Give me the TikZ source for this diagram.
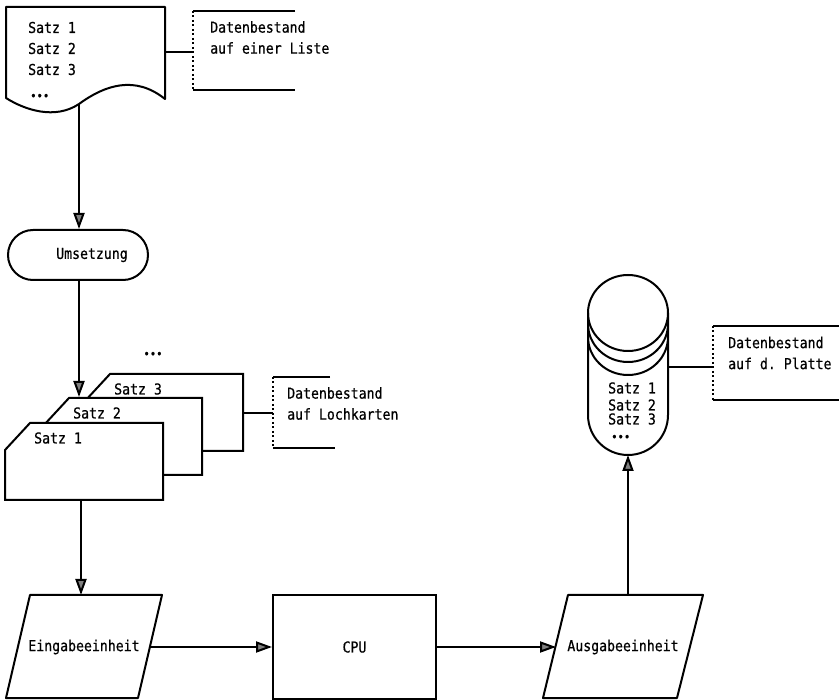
\documentclass[tikz,border=0pt]{standalone}
\usepackage{fontspec}
\setmonofont{DejaVu Sans Mono}[FakeStretch=0.88, FakeBold=0.6]
\usetikzlibrary{arrows.meta, shapes.geometric, shapes.misc, positioning}

\begin{document}
\begin{tikzpicture}[
    x=1pt, y=1pt,
    every node/.style={font=\ttfamily\fontsize{15}{21}\selectfont, inner sep=2pt},
    flow/.style={line width=2pt, line join=round},
    unit/.style={draw, line width=2pt, minimum height=103, inner sep=0pt},
    terminal/.style={draw, rounded rectangle, line width=2pt, minimum width=144, minimum height=50},
    card/.style={draw, fill=white, line width=2pt, line join=miter},
    note/.style={align=left, anchor=west},
    klammer/.style={line width=1.3pt, dash pattern=on 2pt off 2.5pt},
    arrow/.style={flow, -{Triangle[length=16pt, width=11pt, fill=gray]}}]

    \useasboundingbox (0,0) rectangle (839,-700);

    % Datenbestand auf einer Liste (oben links)
    \draw[flow] (6,-7) -- (165,-7) -- (165,-99)
        .. controls (135,-75) and (105,-85) .. (79,-104)
        .. controls (55,-120) and (25,-110) .. (6,-98) -- cycle;
    \node[note] (listesaetze) at (26,-48.5) {Satz 1\\Satz 2\\Satz 3};
    \node[note] (listerest) at (28,-97) {\fontsize{12}{12}\selectfont •••};
    \coordinate (listeunten) at (79,-104);
    \coordinate (listerechts) at (165,-52);
    \coordinate (listenotiz) at (193,-52);
    \draw[flow] (295,-11) -- (193,-11);
    \draw[klammer] (193,-11) -- (193,-90);
    \draw[flow] (193,-90) -- (295,-90);
    \draw[flow] (listerechts) -- (listenotiz);
    \node[note] (listetext) at (208,-37.5) {Datenbestand\\auf einer Liste};

    % Umsetzung
    \node[terminal] (umsetzung) at (78,-255) {\hspace*{28pt}Umsetzung};
    \draw[arrow] (listeunten) -- (listeunten |- umsetzung.north);

    % Lochkarten
    \foreach \nr/\dx/\dy in {3/80/49, 2/39/25, 1/0/0} {
        \draw[card, shift={(\dx,\dy)}] (5,-450) -- (30,-423) -- (163,-423) -- (163,-500) -- (5,-500) -- cycle;
        \node[note, shift={(\dx,\dy)}] (satz\nr) at (32,-438) {Satz \nr};
    }
    \node (kartenrest) at (153,-355) {\fontsize{12}{12}\selectfont •••};
    \coordinate (kartenoben) at (79,-397);
    \coordinate (kartenunten) at (81,-500);
    \coordinate (kartenrechts) at (243,-413);
    \coordinate (kartennotiz) at (273,-413);
    \draw[arrow] (umsetzung.south -| kartenoben) -- (kartenoben);
    \draw[flow] (330,-377) -- (273,-377);
    \draw[klammer] (273,-377) -- (273,-448);
    \draw[flow] (273,-448) -- (335,-448);
    \draw[flow] (kartenrechts) -- (kartennotiz);
    \node[note] (kartentext) at (285,-403.5) {Datenbestand\\auf Lochkarten};

    % Eingabe - CPU - Ausgabe
    \draw[flow] (30,-595) -- (162,-595) -- (138,-698) -- (6,-698) -- cycle;
    \node (eingabe) at (84,-647) {Eingabeeinheit};
    \coordinate (eingabeoben) at (81,-595);
    \coordinate (eingaberechts) at (150,-647);
    \node[unit, minimum width=163] (cpu) at (354.5,-647) {CPU};
    \draw[flow] (568,-595) -- (703,-595) -- (677,-698) -- (543,-698) -- cycle;
    \node (ausgabe) at (623,-647) {Ausgabeeinheit};
    \coordinate (ausgabelinks) at (556,-647);
    \coordinate (ausgabeoben) at (628,-595);
    \draw[arrow] (kartenunten) -- (eingabeoben);
    \draw[arrow] (eingaberechts) -- (cpu.west);
    \draw[arrow] (cpu.east) -- (ausgabelinks);

    % Datenbestand auf der Platte
    \draw[flow, fill=white] (588,-313) -- (588,-415) arc[start angle=180, end angle=360, radius=40] -- (668,-313);
    \draw[flow] (628,-313) ellipse [x radius=40, y radius=38];
    \draw[flow] (588,-324) arc[start angle=180, end angle=360, x radius=40, y radius=38];
    \draw[flow] (588,-337) arc[start angle=180, end angle=360, x radius=40, y radius=38];
    \foreach \nr/\y in {1/388, 2/405, 3/419}
        \node[note] (plattesatz\nr) at (606,-\y) {Satz \nr};
    \node[note] (platterest) at (609,-438) {\fontsize{12}{12}\selectfont •••};
    \coordinate (platteunten) at (628,-455);
    \coordinate (platterechts) at (668,-367);
    \coordinate (plattenotiz) at (713,-367);
    \draw[arrow] (ausgabeoben) -- (platteunten);
    \draw[flow] (839,-326) -- (713,-326);
    \draw[klammer] (713,-326) -- (713,-400);
    \draw[flow] (713,-400) -- (839,-400);
    \draw[flow] (platterechts) -- (plattenotiz);
    \node[note] (plattetext) at (726,-353) {Datenbestand\\auf d. Platte};
\end{tikzpicture}
\end{document}
